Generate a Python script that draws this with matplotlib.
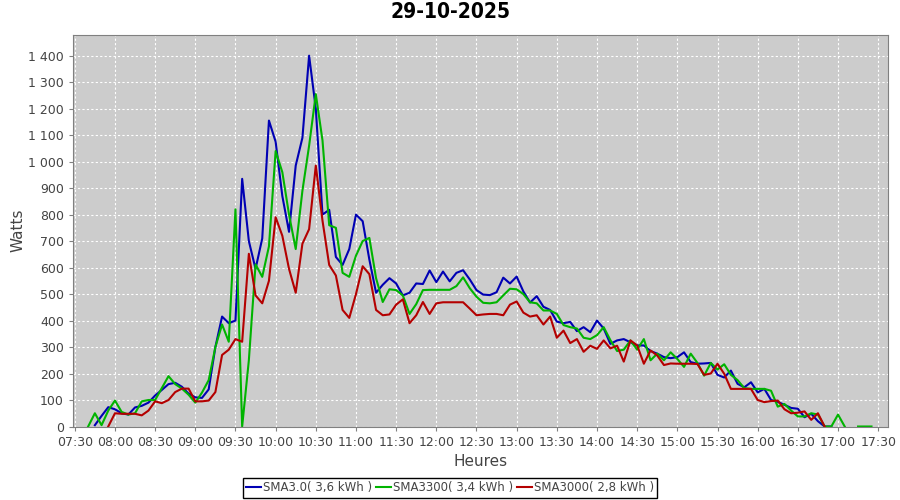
import matplotlib
matplotlib.use("Agg")
import matplotlib.pyplot as plt
import matplotlib.dates as mdates
from matplotlib.ticker import MultipleLocator, FuncFormatter
import numpy as np
import pandas as pd

nan = np.nan

# Production du 29-10-2025, un point toutes les 5 minutes depuis 07:30
heures = pd.date_range("2025-10-29 07:30", periods=121, freq="5min")

sma30 = [nan, nan, nan, 5, 40, 73, 65, 50, 45, 72,
         78, 90, 117, 138, 160, 165, 150, 124, 110, 108,
         140, 300, 415, 390, 400, 935, 700, 595, 710, 1155,
         1075, 870, 735, 985, 1090, 1400, 1200, 800, 818, 640,
         610, 670, 800, 775, 630, 505, 535, 560, 540, 495,
         505, 540, 538, 589, 545, 585, 548, 580, 590, 555,
         515, 498, 496, 507, 562, 540, 566, 510, 468, 492,
         452, 440, 396, 390, 395, 360, 375, 356, 400, 370,
         312, 325, 330, 318, 306, 306, 285, 275, 262, 258,
         262, 280, 243, 237, 238, 240, 195, 185, 211, 161,
         148, 167, 129, 142, 100, 93, 82, 70, 67, 35,
         48, 20, 0, 0, nan, nan, nan, nan, nan, nan,
         nan]

sma3300 = [nan, nan, 0, 50, 5, 60, 98, 55, 45, 50,
           95, 100, 100, 145, 190, 160, 143, 120, 90, 128,
           175, 300, 385, 320, 820, 0, 250, 612, 565, 680,
           1040, 960, 800, 670, 890, 1060, 1255, 1080, 760, 750,
           580, 565, 645, 700, 712, 560, 470, 518, 515, 495,
           425, 462, 515, 516, 516, 516, 516, 530, 563, 522,
           490, 467, 465, 469, 495, 520, 518, 500, 469, 465,
           438, 438, 425, 383, 375, 370, 335, 330, 345, 375,
           326, 285, 290, 325, 290, 330, 250, 275, 250, 280,
           255, 225, 275, 240, 192, 240, 215, 235, 195, 175,
           145, 142, 142, 142, 135, 75, 85, 60, 38, 38,
           50, 45, 0, 0, 45, 0, nan, 0, 0, 0,
           nan]

sma3000 = [nan, nan, nan, nan, nan, 0, 50, 48, 48, 48,
           42, 60, 95, 88, 100, 130, 143, 143, 95, 95,
           98, 130, 270, 290, 330, 320, 652, 495, 465, 550,
           790, 720, 595, 505, 690, 745, 985, 777, 610, 570,
           440, 410, 500, 605, 575, 440, 420, 423, 460, 480,
           390, 420, 470, 425, 465, 469, 469, 469, 469, 445,
           420, 423, 425, 425, 420, 460, 472, 430, 415, 420,
           385, 415, 335, 362, 315, 330, 282, 305, 293, 325,
           295, 305, 245, 325, 306, 237, 287, 268, 232, 238,
           237, 237, 237, 236, 195, 200, 237, 199, 142, 142,
           142, 142, 100, 92, 96, 98, 65, 50, 52, 57,
           25, 50, 0, nan, nan, nan, nan, nan, nan, nan,
           nan]

series = [
    ("SMA3.0( 3,6 kWh )", sma30, "#0000b4"),
    ("SMA3300( 3,4 kWh )", sma3300, "#00b400"),
    ("SMA3000( 2,8 kWh )", sma3000, "#b40000"),
]

fig = plt.figure(figsize=(9, 5), dpi=100)
ax = fig.add_axes([73 / 900, 1 - 426.5 / 500, 815 / 900, 391.5 / 500])
ax.set_facecolor("#cccccc")

for label, values, color in series:
    ax.plot(heures, values, color=color, linewidth=1.5, label=label)

ax.set_xlim(pd.Timestamp("2025-10-29 07:28:40"), pd.Timestamp("2025-10-29 17:37:20"))
ax.set_ylim(0, 1478)

ax.xaxis.set_major_locator(mdates.MinuteLocator(byminute=[0, 30]))
ax.xaxis.set_major_formatter(mdates.DateFormatter("%H:%M"))
ax.yaxis.set_major_locator(MultipleLocator(100))
ax.yaxis.set_major_formatter(FuncFormatter(lambda v, p: f"{int(v):,}".replace(",", " ")))

ax.grid(True, color="white", linestyle=(0, (2, 2)), linewidth=0.8)
ax.set_axisbelow(True)
for s in ax.spines.values():
    s.set_color("#808080")
ax.tick_params(direction="out", length=3, color="#808080", labelcolor="#444444", labelsize=9)

ax.set_xlabel("Heures", fontsize=11, color="#444444", labelpad=4)
ax.set_ylabel("Watts", fontsize=11, color="#444444", labelpad=10)
ax.yaxis.set_label_coords(-0.058, 0.5)

fig.suptitle("29-10-2025", y=0.995, fontsize=15, fontweight="bold", fontstretch="condensed")

leg = fig.legend(loc="center", bbox_to_anchor=(0.5, 1 - 488 / 500), ncol=3, fontsize=8.5,
                 frameon=True, fancybox=False, edgecolor="black", framealpha=1,
                 handlelength=1.3, handletextpad=0.15, columnspacing=0.3, borderpad=0.3,
                 borderaxespad=0)
leg.get_frame().set_linewidth(1)
for t in leg.get_texts():
    t.set_color("#444444")

fig.savefig("out.png", dpi=100, facecolor="white")
